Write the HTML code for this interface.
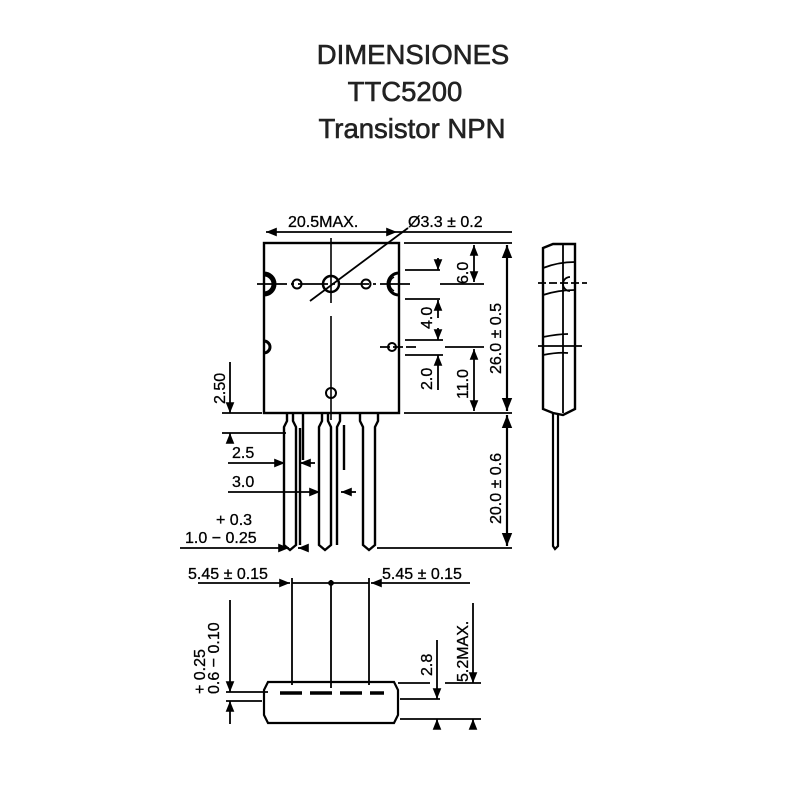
<!DOCTYPE html>
<html><head><meta charset="utf-8"><style>
html,body{margin:0;padding:0;background:#fff;width:800px;height:800px;overflow:hidden}
.t{font-family:"Liberation Sans",sans-serif;fill:#222;font-size:27.5px;text-anchor:middle;stroke:#222;stroke-width:0.6}
.d{font-family:"Liberation Sans",sans-serif;fill:#000;font-size:16px;stroke:#000;stroke-width:0.3}
</style></head><body>
<svg width="800" height="800" viewBox="0 0 800 800" xmlns="http://www.w3.org/2000/svg">
<defs><marker id="a" viewBox="0 0 10 10" refX="10" refY="5" markerWidth="6" markerHeight="6" orient="auto-start-reverse"><path d="M0,1 L10,5 L0,9z" fill="#000"/></marker></defs>
<text class="t" x="413" y="64">DIMENSIONES</text>
<text class="t" x="405" y="101">TTC5200</text>
<text class="t" x="412" y="138">Transistor NPN</text>
<g stroke="#000" fill="none" stroke-width="1.8">
<rect x="264" y="243" width="135" height="170" stroke-width="2.4"/>
<path d="M264,274 a10,10 0 0 1 0,20" stroke-width="5"/>
<path d="M264,341 a6,6 0 0 1 0,12" stroke-width="3"/>
<path d="M399,273 a11,11 0 0 0 0,22" stroke-width="3"/>
<path d="M394,277 a8,8 0 0 0 0,14" stroke-width="1.5"/>
<circle cx="331" cy="284" r="8" stroke-width="2.5"/>
<circle cx="297" cy="284" r="4.5" stroke-width="2"/>
<circle cx="366" cy="284" r="4.5" stroke-width="2"/>
<circle cx="331" cy="393" r="5" stroke-width="2"/>
<circle cx="392" cy="347" r="4" stroke-width="2"/>
<line x1="257" y1="284" x2="410" y2="284" stroke-dasharray="30,4,3,4"/>
<line x1="331" y1="238" x2="331" y2="303" stroke-width="1.6"/>
<line x1="331" y1="316" x2="331" y2="420" stroke-width="1.6"/>
<line x1="380" y1="347" x2="418" y2="347" stroke-dasharray="10,3"/>
<line x1="310" y1="301" x2="408" y2="228"/>
<line x1="266" y1="232" x2="397" y2="232" marker-start="url(#a)" marker-end="url(#a)"/>
<line x1="397" y1="232" x2="512" y2="232"/>
<line x1="404" y1="243" x2="512" y2="243"/>
<line x1="405" y1="270" x2="440" y2="270"/>
<line x1="405" y1="299" x2="440" y2="299"/>
<line x1="405" y1="340" x2="443" y2="340"/>
<line x1="405" y1="355" x2="443" y2="355"/>
<line x1="440" y1="284" x2="484" y2="284"/>
<line x1="445" y1="347" x2="484" y2="347"/>
<line x1="404" y1="413" x2="512" y2="413"/>
<line x1="438" y1="258" x2="438" y2="270" marker-end="url(#a)"/>
<line x1="438" y1="300" x2="438" y2="318" marker-start="url(#a)"/>
<line x1="438" y1="328" x2="438" y2="340" marker-end="url(#a)"/>
<line x1="438" y1="355" x2="438" y2="390" marker-start="url(#a)"/>
<line x1="474" y1="245" x2="474" y2="282" marker-start="url(#a)" marker-end="url(#a)"/>
<line x1="474" y1="349" x2="474" y2="411" marker-start="url(#a)" marker-end="url(#a)"/>
<line x1="507" y1="245" x2="507" y2="411" marker-start="url(#a)" marker-end="url(#a)" stroke-width="2.2"/>
<line x1="507" y1="415" x2="507" y2="546" marker-start="url(#a)" marker-end="url(#a)" stroke-width="2.2"/>
<g stroke-width="2.4">
<path d="M287,413 v8 l-3,6 v118 l6,5 l6,-5 v-118 l-3,-6 v-8"/>
<line x1="303" y1="413" x2="303" y2="460"/>
<line x1="300" y1="428" x2="300" y2="545"/>
<path d="M322,413 v8 l-3,6 v118 l6,5 l6,-5 v-118 l-3,-6 v-8"/>
<path d="M340,413 v8 l-3,6 v118"/>
<line x1="344" y1="425" x2="344" y2="470"/>
<path d="M360,413 v8 l3,6 v118 l6,5 l6,-5 v-118 l3,-6 v-8"/>
</g>
<line x1="222" y1="413" x2="262" y2="413"/>
<line x1="222" y1="433" x2="286" y2="433"/>
<line x1="230" y1="362" x2="230" y2="413" marker-end="url(#a)"/>
<line x1="230" y1="440" x2="230" y2="433" marker-end="url(#a)"/>
<line x1="228" y1="463" x2="285" y2="463" marker-end="url(#a)"/>
<line x1="315" y1="463" x2="300" y2="463" marker-end="url(#a)"/>
<line x1="228" y1="492" x2="320" y2="492" marker-end="url(#a)"/>
<line x1="356" y1="492" x2="341" y2="492" marker-end="url(#a)"/>
<line x1="180" y1="548" x2="289" y2="548" marker-end="url(#a)"/>
<line x1="305" y1="548" x2="298" y2="548" marker-end="url(#a)"/>
<line x1="377" y1="548" x2="512" y2="548"/>
<path d="M543,248 l10,-4 l22,0 v165 l-12,6 l-10,-2 l-10,-4 z" stroke-width="2.4"/>
<line x1="563" y1="244" x2="563" y2="413"/>
<path d="M553,413 v133 l2,3 l3,-3 v-132" stroke-width="2.2"/>
<line x1="538" y1="283" x2="587" y2="283" stroke-dasharray="8,3"/>
<line x1="538" y1="346" x2="582" y2="346"/>
<path d="M543,268 q15,-6 32,-6 M543,295 q15,-5 32,-5 M543,337 q15,-3 25,-3 M543,355 q15,-3 25,-2"/>
<path d="M570,277 a7,7 0 0 0 0,14"/>
<line x1="198" y1="583" x2="290" y2="583" marker-end="url(#a)"/>
<line x1="470" y1="583" x2="371" y2="583" marker-end="url(#a)"/>
<line x1="292" y1="583" x2="369" y2="583"/>
<circle cx="331" cy="583" r="2" fill="#000"/>
<line x1="292" y1="578" x2="292" y2="685"/>
<line x1="331" y1="580" x2="331" y2="688"/>
<line x1="369" y1="578" x2="369" y2="685"/>
<path d="M268,682 h126 l4,8 v25 l-4,8 h-126 l-4,-8 v-25 z" stroke-width="2.2"/>
<line x1="226" y1="692" x2="268" y2="692"/>
<line x1="226" y1="701" x2="262" y2="701"/>
<line x1="280" y1="693" x2="384" y2="693" stroke-width="3.5" stroke-dasharray="22,8"/>
<line x1="230" y1="600" x2="230" y2="692" marker-end="url(#a)"/>
<line x1="230" y1="724" x2="230" y2="701" marker-end="url(#a)"/>
<line x1="398" y1="683" x2="430" y2="683"/>
<line x1="445" y1="683" x2="481" y2="683"/>
<line x1="400" y1="699" x2="440" y2="699"/>
<line x1="400" y1="719" x2="481" y2="719"/>
<line x1="437" y1="640" x2="437" y2="699" marker-end="url(#a)"/>
<line x1="437" y1="728" x2="437" y2="719" marker-end="url(#a)"/>
<line x1="473" y1="603" x2="473" y2="683" marker-end="url(#a)"/>
<line x1="473" y1="728" x2="473" y2="719" marker-end="url(#a)"/>
</g>
<g class="d">
<text x="288" y="227">20.5MAX.</text>
<text x="408" y="227">Ø3.3 ± 0.2</text>
<text transform="translate(468,284) rotate(-90)">6.0</text>
<text transform="translate(432,329) rotate(-90)">4.0</text>
<text transform="translate(432,390) rotate(-90)">2.0</text>
<text transform="translate(468,399) rotate(-90)">11.0</text>
<text transform="translate(501,374) rotate(-90)">26.0 ± 0.5</text>
<text transform="translate(501,524) rotate(-90)">20.0 ± 0.6</text>
<text transform="translate(225,404) rotate(-90)">2.50</text>
<text x="232" y="458">2.5</text>
<text x="232" y="487">3.0</text>
<text x="216" y="525">+ 0.3</text>
<text x="185" y="543">1.0 − 0.25</text>
<text x="188" y="579">5.45 ± 0.15</text>
<text x="382" y="579">5.45 ± 0.15</text>
<text transform="translate(205,694) rotate(-90)">+ 0.25</text>
<text transform="translate(219,694) rotate(-90)">0.6 − 0.10</text>
<text transform="translate(432,676) rotate(-90)">2.8</text>
<text transform="translate(468,682) rotate(-90)">5.2MAX.</text>
</g>
</svg>
</body></html>
